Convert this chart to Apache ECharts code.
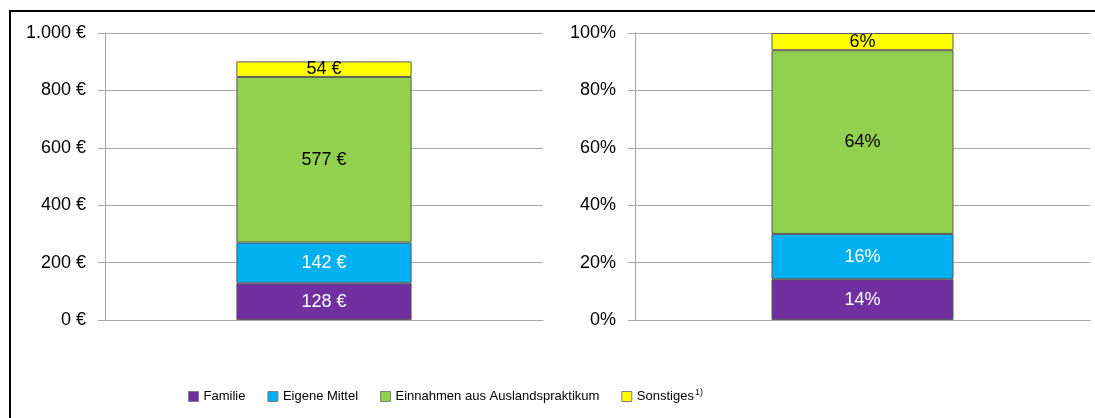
<!DOCTYPE html>
<html>
<head>
<meta charset="utf-8">
<script src="https://cdn.jsdelivr.net/npm/echarts@6/dist/echarts.min.js"></script>
<style>
  html, body { margin: 0; padding: 0; background: #fff; }
  #chart { width: 1095px; height: 418px; }
</style>
</head>
<body>
<div id="chart"></div>
<script>
// categories (one stacked column per panel)
var categories = [''];
var seriesNames = ['Familie', 'Eigene Mittel', 'Einnahmen aus Auslandspraktikum', 'Sonstiges'];
var colors = ['#7030A0', '#00B0F0', '#92D050', '#FFFF00'];
var labelColors = ['#fff', '#fff', '#000', '#000'];

// left panel: amounts in euro
var euroValues = [128, 142, 577, 54];
// right panel: shares in percent
var percentValues = [14.2, 15.8, 64.0, 6.0];

var euroTicks = [0, 200, 400, 600, 800, 1000];
var percentTicks = [0, 20, 40, 60, 80, 100];

var font = '"Liberation Sans", Arial, sans-serif';

function euroFmt(v) {
  return String(Math.round(v)).replace(/\B(?=(\d{3})+(?!\d))/g, '.') + ' €';
}

var chartDom = document.getElementById('chart');
var myChart = echarts.init(chartDom);
var option;

var series = [];
seriesNames.forEach(function (name, i) {
  series.push({
    name: name,
    type: 'bar',
    stack: 'euro',
    xAxisIndex: 0,
    yAxisIndex: 0,
    barWidth: '40%',
    data: [euroValues[i]],
    itemStyle: { color: colors[i], borderColor: '#595959', borderWidth: 1 },
    label: {
      show: true,
      position: 'inside',
      color: labelColors[i],
      fontFamily: font,
      fontSize: 18,
      formatter: function (p) { return euroFmt(p.value); }
    }
  });
  series.push({
    name: name,
    type: 'bar',
    stack: 'pct',
    xAxisIndex: 1,
    yAxisIndex: 1,
    barWidth: '40%',
    data: [percentValues[i]],
    itemStyle: { color: colors[i], borderColor: '#595959', borderWidth: 1 },
    label: {
      show: true,
      position: 'inside',
      color: labelColors[i],
      fontFamily: font,
      fontSize: 18,
      formatter: function (p) { return Math.round(p.value) + '%'; }
    }
  });
});

function yAxisFor(ticks, fmt, gridIndex) {
  return {
    type: 'value',
    gridIndex: gridIndex,
    min: ticks[0],
    max: ticks[ticks.length - 1],
    interval: ticks[1] - ticks[0],
    axisLine: { show: true, lineStyle: { color: '#A6A6A6' } },
    axisTick: { show: true, length: 7, lineStyle: { color: '#A6A6A6' } },
    splitLine: { show: true, lineStyle: { color: '#A6A6A6' } },
    axisLabel: { color: '#000', fontFamily: font, fontSize: 18, margin: 19, formatter: fmt }
  };
}

function xAxisFor(gridIndex) {
  return {
    type: 'category',
    gridIndex: gridIndex,
    data: categories,
    axisLine: { show: true, lineStyle: { color: '#A6A6A6' } },
    axisTick: { show: false },
    axisLabel: { show: false }
  };
}

option = {
  animation: false,
  graphic: [{
    type: 'rect',
    shape: { x: 10, y: 11, width: 1100, height: 420 },
    style: { fill: 'none', stroke: '#000', lineWidth: 2 },
    silent: true
  }],
  grid: [
    { left: 105, right: 552, top: 33, bottom: 98 },
    { left: 635, right: 5, top: 33, bottom: 98 }
  ],
  xAxis: [xAxisFor(0), xAxisFor(1)],
  yAxis: [
    yAxisFor(euroTicks, euroFmt, 0),
    yAxisFor(percentTicks, '{value}%', 1)
  ],
  legend: {
    bottom: 10,
    left: 183,
    itemWidth: 10,
    itemHeight: 10,
    itemGap: 22,
    icon: 'rect',
    itemStyle: { borderColor: '#808080', borderWidth: 1 },
    data: seriesNames,
    formatter: function (name) {
      return name === 'Sonstiges' ? name + '{sup|1)}' : name;
    },
    textStyle: {
      color: '#000',
      fontFamily: font,
      fontSize: 13,
      rich: {
        sup: { fontFamily: font, fontSize: 9, verticalAlign: 'top', padding: [0, 0, 7, 1] }
      }
    }
  },
  series: series
};

option && myChart.setOption(option);
</script>
</body>
</html>
